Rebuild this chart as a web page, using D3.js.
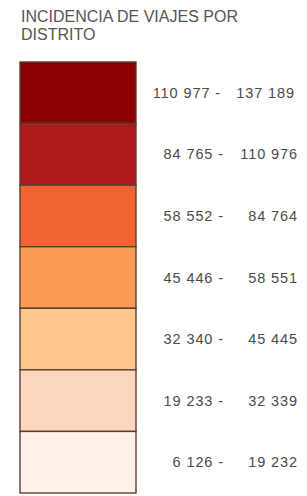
<!DOCTYPE html>
<html><head><meta charset="utf-8">
<script src="https://cdn.jsdelivr.net/npm/d3@7"></script>
<style>body{margin:0;background:#fff;}svg{display:block;}</style>
</head><body>
<script>
const titleLines = ["INCIDENCIA DE VIAJES POR", "DISTRITO"];
const lowValues  = ["110 977", "84 765", "58 552", "45 446", "32 340", "19 233", "6 126"];
const highValues = ["137 189", "110 976", "84 764", "58 551", "45 445", "32 339", "19 232"];
const colors = ["#8a0000", "#ae1a1c", "#f1632f", "#fa9a55", "#fec58c", "#fdd6c0", "#fff1e8"];

const W = 307, H = 496;
const svg = d3.select("body").append("svg").attr("width", W).attr("height", H);
const font = "Liberation Sans, Arial, sans-serif";

svg.selectAll("text.title").data(titleLines).join("text")
  .attr("class","title")
  .attr("x", 21).attr("y", (d,i) => 22 + i*18)
  .attr("font-family", font)
  .attr("font-size", 16).attr("fill","#555")
  .text(d => d);

const y = d3.scaleBand().domain(d3.range(lowValues.length)).range([62, 493]).padding(0);
const x0 = 20, x1 = 136;

svg.append("g").selectAll("rect").data(colors).join("rect")
  .attr("x", x0).attr("y", (d,i) => y(i))
  .attr("width", x1 - x0).attr("height", y.bandwidth())
  .attr("fill", d => d)
  .attr("stroke", "#5a4030").attr("stroke-width", 1.4);

svg.selectAll("text.lo").data(lowValues).join("text")
  .attr("class","lo")
  .attr("x", (d,i) => i === 0 ? 221 : 224)
  .attr("y", (d,i) => y(i) + y.bandwidth()/2 + 5)
  .attr("text-anchor","end")
  .attr("font-family", font).attr("font-size", 14.5).attr("letter-spacing", 0.9)
  .attr("fill","#4a4a4a")
  .text(d => d + " -");
svg.selectAll("text.hi").data(highValues).join("text")
  .attr("class","hi")
  .attr("x", (d,i) => i === 0 ? 295 : 298)
  .attr("y", (d,i) => y(i) + y.bandwidth()/2 + 5)
  .attr("text-anchor","end")
  .attr("font-family", font).attr("font-size", 14.5).attr("letter-spacing", 0.9)
  .attr("fill","#4a4a4a")
  .text(d => d);
</script>
</body></html>
